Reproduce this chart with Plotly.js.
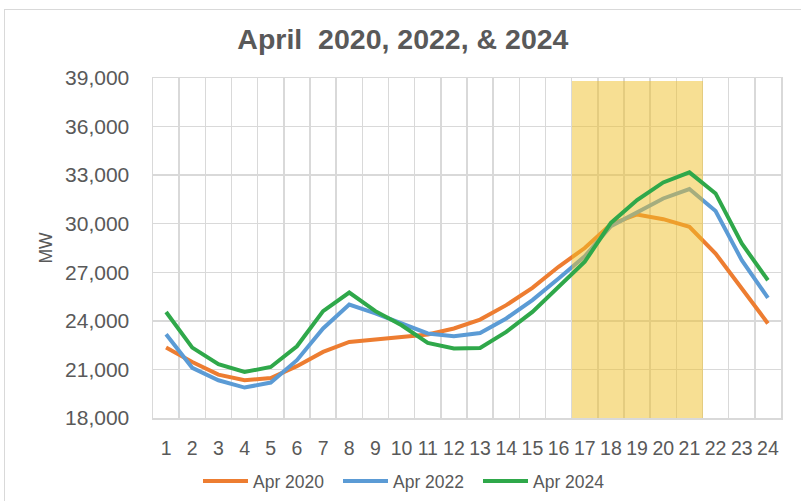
<!DOCTYPE html>
<html>
<head>
<meta charset="utf-8">
<script src="https://cdn.plot.ly/plotly-3.0.1.min.js"></script>
<style>
  html, body { margin: 0; padding: 0; background: #ffffff; }
  #wrap { position: relative; width: 801px; height: 501px; overflow: hidden; }
  #chart { position: absolute; left: 0; top: 0; width: 801px; height: 501px; }
  #frame { position: absolute; left: 4px; top: 9px; width: 820px; height: 520px;
           border-left: 1px solid #d9d9d9; border-top: 1px solid #d9d9d9; pointer-events: none; }
</style>
</head>
<body>
<div id="wrap"><div id="chart"></div><div id="frame"></div></div>
<script>
const hours = ["1","2","3","4","5","6","7","8","9","10","11","12","13","14","15","16","17","18","19","20","21","22","23","24"];
const apr2020 = [22350, 21460, 20680, 20330, 20470, 21200, 22080, 22700, 22850, 23000, 23160, 23530, 24080, 24970, 26040, 27340, 28500, 29970, 30570, 30280, 29810, 28160, 26000, 23840];
const apr2022 = [23170, 21100, 20330, 19880, 20190, 21570, 23530, 25010, 24460, 23840, 23220, 23050, 23250, 24150, 25280, 26620, 27990, 29850, 30730, 31560, 32140, 30780, 27750, 25420];
const apr2024 = [24550, 22350, 21320, 20840, 21150, 22430, 24600, 25750, 24600, 23730, 22640, 22290, 22330, 23320, 24550, 26100, 27650, 30050, 31460, 32550, 33170, 31870, 28780, 26510];
const peakHours = ["17","18","19","20","21"];
const peakShade = [38800, 38800, 38800, 38800, 38800];
const yTickVals = [18000, 21000, 24000, 27000, 30000, 33000, 36000, 39000];
const yTickText = ["18,000","21,000","24,000","27,000","30,000","33,000","36,000","39,000"];

const textColor = "#595959";
const font = "Liberation Sans, Arial, sans-serif";

const traces = [
  { type: "scatter", mode: "lines", name: "Apr 2020", x: hours, y: apr2020,
    xaxis: "x", yaxis: "y", line: { color: "#ED7D31", width: 4 } },
  { type: "scatter", mode: "lines", name: "Apr 2022", x: hours, y: apr2022,
    xaxis: "x", yaxis: "y", line: { color: "#5B9BD5", width: 4 } },
  { type: "bar", name: "Peak", x: peakHours, y: peakShade.map(v => v - 18000), base: 18000,
    width: 1, xaxis: "x", yaxis: "y2", showlegend: false, hoverinfo: "skip",
    marker: { color: "rgba(240,192,40,0.5)", line: { width: 0 } } },
  { type: "scatter", mode: "lines", name: "Apr 2024", x: hours, y: apr2024,
    xaxis: "x", yaxis: "y2", line: { color: "#2FA84A", width: 4 } }
];

const layout = {
  width: 801, height: 501,
  paper_bgcolor: "#ffffff", plot_bgcolor: "#ffffff",
  margin: { l: 153, r: 20, t: 78, b: 83 },
  font: { family: font, color: textColor },
  title: { text: "April  2020, 2022, & 2024", x: 0.503, xanchor: "center",
           y: 1 - 39 / 501, yanchor: "middle", yref: "container",
           font: { family: font, size: 28.5, color: textColor, weight: "bold" } },
  showlegend: true,
  legend: { orientation: "h", xref: "container", yref: "container",
            x: 408 / 801, xanchor: "center", y: 20 / 501, yanchor: "middle",
            font: { family: font, size: 17.5, color: textColor }, itemwidth: 45,
            entrywidth: 80, entrywidthmode: "pixels",
            traceorder: "normal" },
  bargap: 0,
  xaxis: { type: "category", tickson: "boundaries", showgrid: true, gridcolor: "#d9d9d9", gridwidth: 1.5,
           ticks: "", showline: true, linecolor: "#d9d9d9", linewidth: 1.5, mirror: true,
           tickangle: 0, automargin: false,
           tickfont: { family: font, size: 19.5, color: textColor }, ticklabelstandoff: 12,
           range: [-0.5, 23.5], zeroline: false, fixedrange: true },
  yaxis: { range: [18000, 39000], tickvals: yTickVals, ticktext: yTickText,
           showgrid: true, gridcolor: "#d9d9d9", gridwidth: 1.5, zeroline: false,
           ticks: "", showline: true, linecolor: "#d9d9d9", linewidth: 1.5, mirror: true,
           automargin: false,
           tickfont: { family: font, size: 21, color: textColor }, ticklabelstandoff: 18,
           title: { text: "MW", standoff: 8, font: { family: font, size: 17.5, color: textColor } } },
  yaxis2: { range: [18000, 39000], overlaying: "y", visible: false, showgrid: false, zeroline: false }
};

Plotly.newPlot("chart", traces, layout, { staticPlot: true, displayModeBar: false });
</script>
</body>
</html>
